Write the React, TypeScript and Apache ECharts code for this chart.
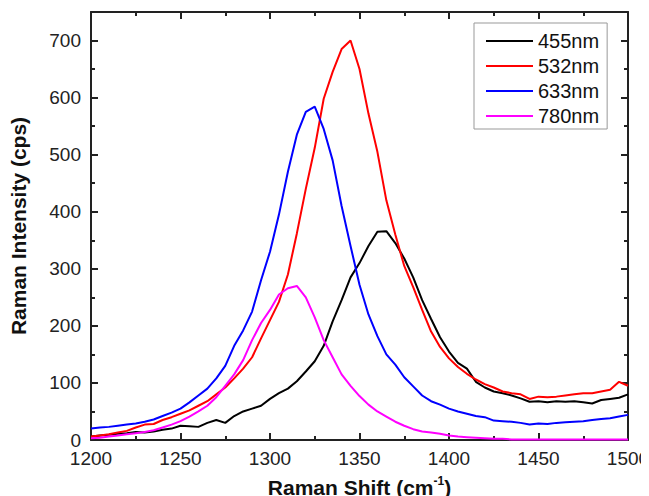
import React, { useEffect, useRef } from "react";
import * as echarts from "echarts";

const shifts = [
  1200, 1205, 1210, 1215, 1220, 1225, 1230, 1235, 1240, 1245, 1250, 1255, 1260, 1265, 1270, 1275,
  1280, 1285, 1290, 1295, 1300, 1305, 1310, 1315, 1320, 1325, 1330, 1335, 1340, 1345, 1350, 1355,
  1360, 1365, 1370, 1375, 1380, 1385, 1390, 1395, 1400, 1405, 1410, 1415, 1420, 1425, 1430, 1435,
  1440, 1445, 1450, 1455, 1460, 1465, 1470, 1475, 1480, 1485, 1490, 1495, 1500,
];

const nm455 = [
  6, 8, 9, 11, 12, 14, 13, 15, 18, 20, 25, 24, 23, 30, 35, 30,
  42, 50, 55, 60, 72, 82, 90, 103, 120, 138, 165, 208, 245, 285, 310, 340,
  365, 366, 345, 318, 285, 245, 212, 180, 155, 135, 125, 102, 92, 85, 82, 78,
  73, 67, 68, 66, 68, 67, 68, 66, 64, 70, 72, 74, 80,
];

const nm532 = [
  6, 8, 10, 13, 16, 22, 27, 28, 35, 40, 46, 52, 60, 68, 80, 92,
  108, 125, 145, 178, 210, 242, 290, 362, 440, 512, 598, 645, 685, 700, 650, 572,
  505, 420, 360, 305, 268, 228, 190, 163, 143, 128, 116, 106, 98, 92, 85, 82,
  80, 72, 76, 75, 76, 78, 80, 82, 82, 85, 88, 102, 95,
];

const nm633 = [
  20, 22, 23, 25, 27, 29, 32, 36, 42, 48, 55, 66, 78, 90, 108, 130,
  165, 192, 225, 280, 330, 395, 470, 535, 575, 584, 545, 490, 410, 340, 272, 220,
  182, 150, 132, 110, 94, 78, 68, 62, 55, 50, 46, 42, 40, 34, 33, 32,
  30, 27, 29, 28, 30, 31, 32, 33, 35, 37, 38, 41, 44,
];

const nm780 = [
  3, 4, 6, 8, 10, 12, 14, 17, 22, 27, 33, 41, 50, 60, 75, 95,
  115, 140, 175, 205, 228, 255, 266, 270, 250, 215, 175, 145, 115, 95, 77, 62,
  50, 41, 32, 25, 19, 15, 13, 11, 8, 6, 5, 4, 3, 2, 2, 1,
  1, 1, 1, 1, 1, 1, 1, 1, 1, 1, 1, 1, 1,
];

const seriesNames = ["455nm", "532nm", "633nm", "780nm"];
const seriesColors = ["#000000", "#ff0000", "#0000ff", "#ff00ff"];
const seriesValues = [nm455, nm532, nm633, nm780];

const FONT = "'Liberation Sans', Arial, sans-serif";

const mkLine = () => ({ show: true, onZero: false, lineStyle: { color: "#222", width: 2 } });
const mkTick = () => ({ show: true, inside: true, length: 7, lineStyle: { color: "#222", width: 2 } });
const mkMinor = () => ({ show: true, splitNumber: 2, length: 4, lineStyle: { color: "#222", width: 2 } });

export default function App() {
  const ref = useRef<HTMLDivElement>(null);

  useEffect(() => {
    if (!ref.current) return;
    const chart = echarts.init(ref.current, undefined, { renderer: "svg" });

    chart.setOption({
      animation: false,
      grid: { left: 83, right: 29, top: 4, bottom: 64, outerBoundsMode: "none", containLabel: false },
      legend: {
        data: seriesNames,
        orient: "vertical",
        left: 466,
        top: 15,
        padding: [8, 8, 3, 12],
        itemGap: 5,
        itemWidth: 47,
        itemHeight: 2,
        icon: "rect",
        borderColor: "#999",
        borderWidth: 1,
        textStyle: { fontSize: 20, color: "#111", fontFamily: FONT, lineHeight: 20 },
      },
      xAxis: [
        {
          type: "value",
          min: 1200,
          max: 1500,
          interval: 50,
          position: "bottom",
          axisLine: mkLine(),
          axisTick: mkTick(),
          minorTick: mkMinor(),
          splitLine: { show: false },
          axisLabel: {
            fontSize: 19,
            color: "#222",
            margin: 9,
            fontFamily: FONT,
            formatter: (v: number) => String(v),
          },
          name: "Raman Shift (cm{sup|-1})",
          nameLocation: "middle",
          nameGap: 35,
          nameTextStyle: {
            fontSize: 21,
            fontWeight: "bold",
            color: "#111",
            fontFamily: FONT,
            rich: {
              sup: { fontSize: 12, fontWeight: "bold", color: "#111", padding: [0, 0, 12, 0], fontFamily: FONT },
            },
          },
        },
        {
          type: "value",
          min: 1200,
          max: 1500,
          interval: 50,
          position: "top",
          axisLine: mkLine(),
          axisTick: mkTick(),
          minorTick: mkMinor(),
          splitLine: { show: false },
          axisLabel: { show: false },
        },
      ],
      yAxis: [
        {
          type: "value",
          min: 0,
          max: 750,
          interval: 100,
          position: "left",
          axisLine: mkLine(),
          axisTick: mkTick(),
          minorTick: mkMinor(),
          splitLine: { show: false },
          axisLabel: {
            fontSize: 19,
            color: "#222",
            margin: 10,
            showMaxLabel: false,
            fontFamily: FONT,
            formatter: (v: number) => String(v),
          },
          name: "Raman Intensity (cps)",
          nameLocation: "middle",
          nameGap: 62,
          nameRotate: 90,
          nameTextStyle: { fontSize: 21, fontWeight: "bold", color: "#111", fontFamily: FONT },
        },
        {
          type: "value",
          min: 0,
          max: 750,
          interval: 100,
          position: "right",
          axisLine: mkLine(),
          axisTick: mkTick(),
          minorTick: mkMinor(),
          splitLine: { show: false },
          axisLabel: { show: false },
        },
      ],
      series: seriesNames.map((name, i) => ({
        name,
        type: "line",
        showSymbol: false,
        symbol: "none",
        smooth: false,
        lineStyle: { color: seriesColors[i], width: 2 },
        itemStyle: { color: seriesColors[i] },
        data: shifts.map((x, j) => [x, seriesValues[i][j]]),
      })),
    });
    return () => chart.dispose();
  }, []);

  return <div ref={ref} style={{ width: 649, height: 496 }} />;
}
